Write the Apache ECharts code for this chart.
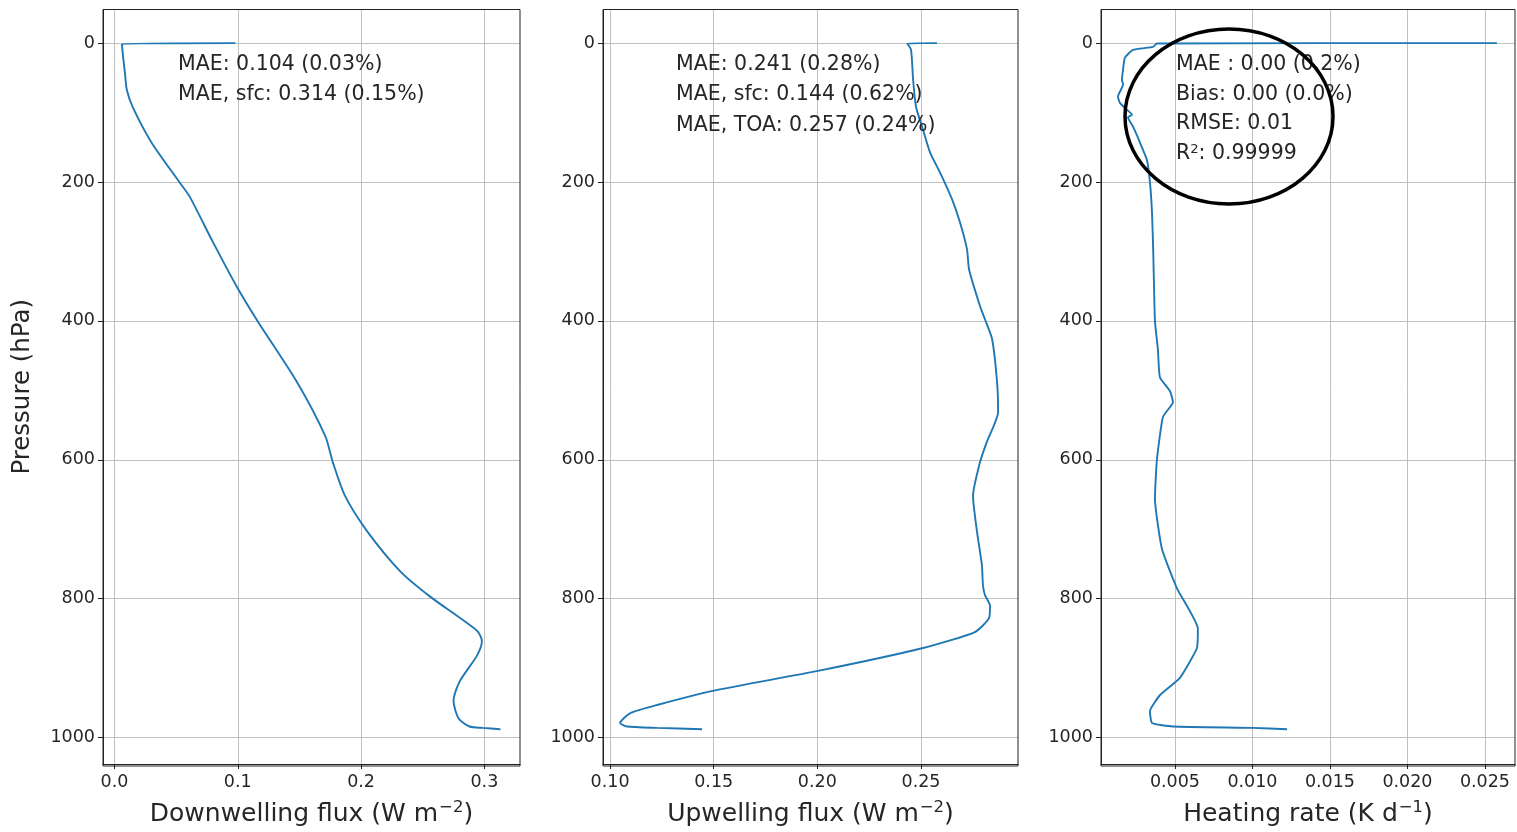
<!DOCTYPE html>
<html>
<head>
<meta charset="utf-8">
<script src="https://cdn.jsdelivr.net/npm/echarts@6/dist/echarts.min.js"></script>
<style>
html,body{margin:0;padding:0;background:#fff;}
#chart{width:1517px;height:832px;}
</style>
</head>
<body>
<div id="chart"></div>
<script>
// ---- Data (pressure in hPa) ----
var pDown = [0, 1, 19.8, 42.8, 67.2, 93, 143, 201, 221, 287, 350, 400, 488, 566, 603, 652, 703, 761, 797, 846, 861, 882, 919, 947, 972, 984, 986, 988];
var downFlux = [0.098, 0.006, 0.007, 0.0085, 0.010, 0.015, 0.030, 0.053, 0.061, 0.080, 0.099, 0.116, 0.148, 0.171, 0.177, 0.187, 0.205, 0.232, 0.256, 0.294, 0.298, 0.294, 0.280, 0.275, 0.279, 0.288, 0.299, 0.313];

var pUp = [0, 0.3, 9.8, 52.8, 91.6, 124.8, 157.8, 186.4, 225, 258, 297, 326, 379, 398, 426, 488, 531, 574, 603, 652, 703, 752, 781, 795, 810, 828, 848, 871, 904, 932, 953, 965, 979, 984, 986, 988];
var upFlux = [0.2577, 0.2433, 0.2452, 0.2462, 0.2476, 0.2510, 0.2544, 0.2592, 0.2650, 0.2688, 0.2722, 0.2732, 0.2785, 0.2809, 0.2843, 0.2867, 0.2872, 0.2818, 0.2785, 0.2751, 0.2770, 0.2794, 0.2799, 0.2809, 0.2833, 0.2828, 0.2760, 0.2510, 0.2003, 0.1507, 0.1227, 0.1096, 0.1048, 0.1082, 0.1227, 0.1444];

var pHeat = [0, 0.5, 5.5, 9.8, 21, 38.5, 52.8, 60, 77, 86, 96, 103, 107, 120, 143, 168, 201, 244, 300, 400, 441, 481, 501, 517, 538, 599, 656, 728, 785, 843, 871, 914, 939, 962, 979, 984, 986, 988];
var heatRate = [0.02577, 0.00384, 0.00358, 0.00229, 0.00177, 0.00165, 0.00158, 0.00165, 0.00132, 0.00145, 0.00190, 0.00223, 0.00197, 0.00229, 0.00274, 0.00319, 0.00339, 0.00352, 0.00360, 0.00371, 0.00390, 0.00403, 0.00468, 0.00487, 0.00423, 0.00384, 0.00371, 0.00416, 0.00513, 0.00648, 0.00642, 0.00532, 0.00403, 0.00339, 0.00352, 0.00487, 0.01003, 0.01223];

var yTicks = [0, 200, 400, 600, 800, 1000];
var xTicks1 = [0.0, 0.1, 0.2, 0.3];
var xTicks2 = [0.10, 0.15, 0.20, 0.25];
var xTicks3 = [0.005, 0.010, 0.015, 0.020, 0.025];

var xNames = ['{a|Downwelling flux (W m}{s|\u22122}{a|)}', '{a|Upwelling flux (W m}{s|\u22122}{a|)}', '{a|Heating rate (K d}{s|\u22121}{a|)}'];
var yName = 'Pressure (hPa)';

var notes1 = ['MAE: 0.104 (0.03%)', 'MAE, sfc: 0.314 (0.15%)'];
var notes2 = ['MAE: 0.241 (0.28%)', 'MAE, sfc: 0.144 (0.62%)', 'MAE, TOA: 0.257 (0.24%)'];
var notes3 = ['MAE : 0.00 (0.2%)', 'Bias: 0.00 (0.0%)', 'RMSE: 0.01', '{t|R}{s|2}{t|: 0.99999}'];

// ---- Chart ----
var FONT = 'DejaVu Sans';
var TXT = '#262626';
var BLUE = '#1f77b4';

function pairs(xs, ps) {
  return xs.map(function (v, i) { return [v, ps[i]]; });
}

var grids = [
  {left: 103, top: 9.5, width: 417, height: 756.5},
  {left: 603, top: 9.5, width: 415, height: 756.5},
  {left: 1101, top: 9.5, width: 414, height: 756.5}
];
var xRanges = [[-0.0093, 0.3289], [0.0966, 0.2968], [0.00023, 0.02694]];
var xTickSets = [xTicks1, xTicks2, xTicks3];
var xDec = [1, 2, 3];

function xAxisFor(i) {
  return {
    type: 'value', gridIndex: i,
    min: xRanges[i][0], max: xRanges[i][1],
    name: xNames[i], nameLocation: 'middle', nameGap: 35,
    nameTextStyle: {fontFamily: FONT, fontSize: 25, color: TXT,
      rich: {a: {fontFamily: FONT, fontSize: 25, color: TXT, lineHeight: 31},
             s: {fontFamily: FONT, fontSize: 16.5, color: TXT, verticalAlign: 'top', lineHeight: 31, padding: [0, 0, 10, 1]}}},
    axisLine: {show: true, onZero: false, lineStyle: {color: '#222', width: 1}},
    axisTick: {show: true, length: 5, customValues: xTickSets[i], lineStyle: {color: '#222'}},
    axisLabel: {customValues: xTickSets[i], margin: 9, fontFamily: FONT, fontSize: 17.5, color: TXT,
      formatter: function (v) { return v.toFixed(xDec[i]); }},
    splitLine: {show: true, lineStyle: {color: '#c0c0c0', width: 1}}
  };
}
function yAxisFor(i) {
  return {
    type: 'value', gridIndex: i, inverse: true,
    min: -48.4, max: 1038,
    name: i === 0 ? yName : '', nameLocation: 'middle', nameGap: 68,
    nameTextStyle: {fontFamily: FONT, fontSize: 24.5, color: TXT},
    axisLine: {show: true, onZero: false, lineStyle: {color: '#222', width: 1}},
    axisTick: {show: true, length: 5, customValues: yTicks, lineStyle: {color: '#222'}},
    axisLabel: {customValues: yTicks, margin: 8, fontFamily: FONT, fontSize: 17.5, color: TXT,
      formatter: function (v) { return String(v); }},
    splitLine: {show: true, lineStyle: {color: '#c0c0c0', width: 1}}
  };
}

function frame(g) {
  return {type: 'rect', shape: {x: g.left, y: g.top, width: g.width, height: g.height},
    style: {fill: null, stroke: '#222', lineWidth: 1}, silent: true, z: 10};
}
function noteBlock(x, y, lines, step) {
  return lines.map(function (t, k) {
    return {type: 'text', left: x, top: y + k * step, z: 20,
      style: {text: t, fontFamily: FONT, fontSize: 20.5, fill: TXT,
        rich: {t: {fontFamily: FONT, fontSize: 20.5, fill: TXT, color: TXT},
               s: {fontFamily: FONT, fontSize: 13, fill: TXT, color: TXT, verticalAlign: 'top', padding: [0, 0, 8, 0]}}}};
  });
}

var chart = echarts.init(document.getElementById('chart'), null, {renderer: 'canvas'});
var seriesData = [pairs(downFlux, pDown), pairs(upFlux, pUp), pairs(heatRate, pHeat)];
var smooths = [0.25, 0.2, 0.15];

chart.setOption({
  backgroundColor: '#ffffff',
  animation: false,
  grid: grids,
  xAxis: [xAxisFor(0), xAxisFor(1), xAxisFor(2)],
  yAxis: [yAxisFor(0), yAxisFor(1), yAxisFor(2)],
  series: seriesData.map(function (d, i) {
    return {type: 'line', xAxisIndex: i, yAxisIndex: i, data: d, showSymbol: false,
      smooth: smooths[i],
      lineStyle: {color: BLUE, width: 1.9}, z: 5};
  }),
  graphic: [frame(grids[0]), frame(grids[1]), frame(grids[2])]
    .concat(noteBlock(178, 54, notes1, 30.5))
    .concat(noteBlock(676, 54, notes2, 30.5))
    .concat(noteBlock(1176, 54, notes3, 29.7))
    .concat([{type: 'ellipse', shape: {cx: 1229, cy: 116.5, rx: 104, ry: 87.5},
      style: {fill: null, stroke: '#000', lineWidth: 3.5}, z: 30}])
});
</script>
</body>
</html>
